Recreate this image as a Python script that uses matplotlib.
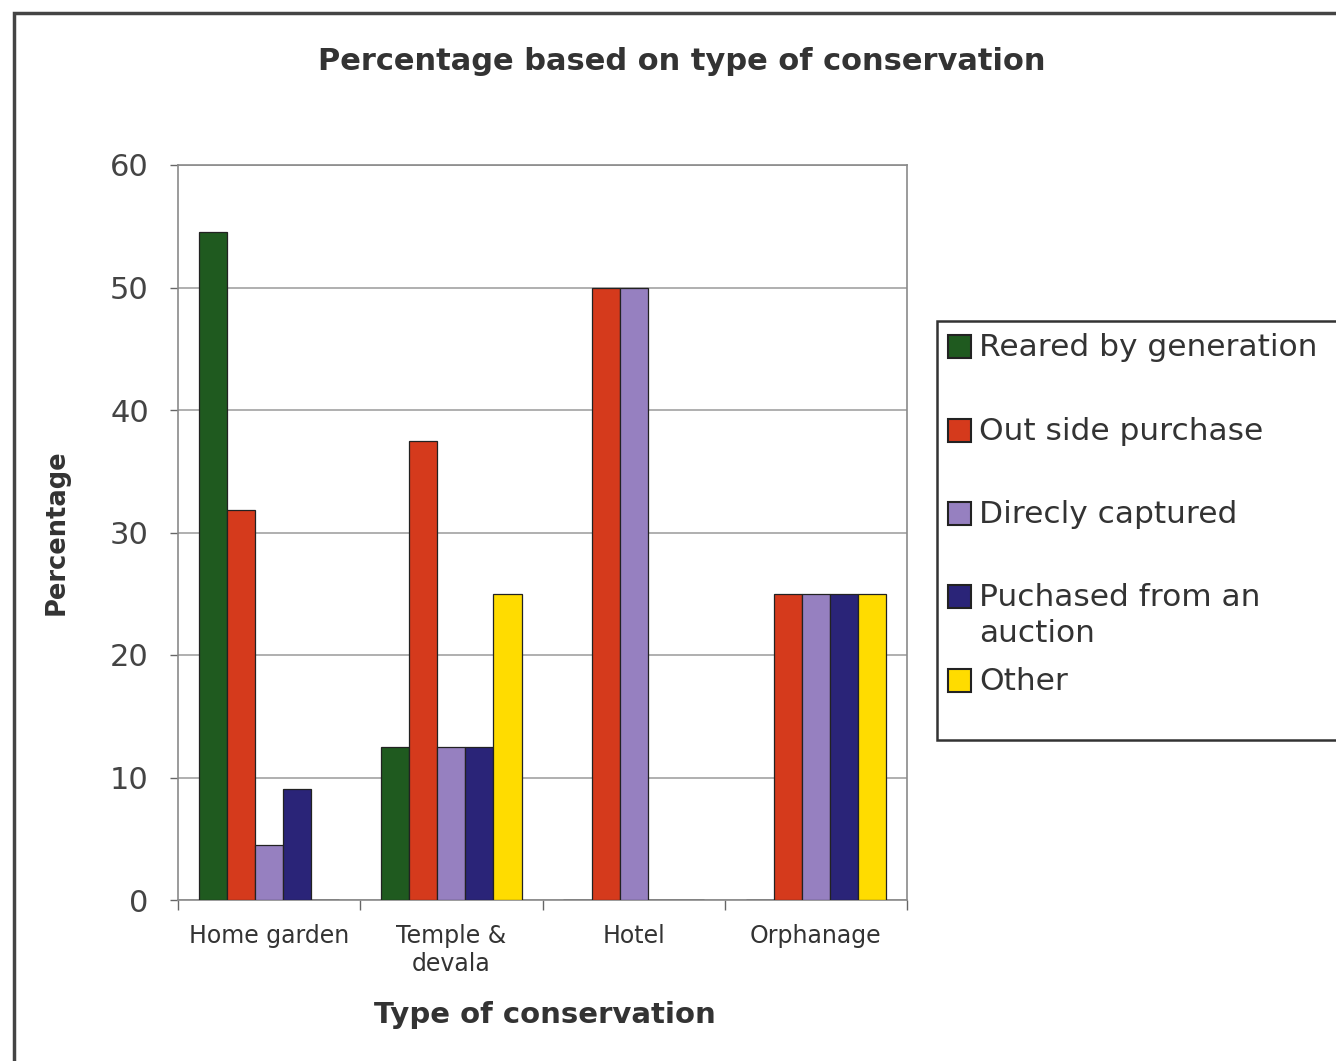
import matplotlib
matplotlib.use('Agg')
import matplotlib.pyplot as plt
from matplotlib.patches import Rectangle
import numpy as np

# data
categories = ['Home garden', 'Temple &\ndevala', 'Hotel', 'Orphanage']
series_names = ['Reared by generation', 'Out side purchase', 'Direcly captured',
                'Puchased from an\nauction', 'Other']
reared = [54.5, 12.5, 0, 0]
outside = [31.8, 37.5, 50, 25]
captured = [4.5, 12.5, 50, 25]
auction = [9.1, 12.5, 0, 25]
other = [0, 25, 0, 25]
colors = ['#1f5a1f', '#d53a1c', '#9680c0', '#2a2478', '#ffdc00']

# the original uses a wide-tracked Arial look, DejaVu gets closer on width
plt.rcParams['font.family'] = ['DejaVu Sans']
W, H = 1336, 1061
fig = plt.figure(figsize=(W / 100, H / 100), dpi=100)
fig.patch.set_facecolor('white')

# helpers to go from pixel positions to figure fractions
def fx(x):
    return x / W

def fy(y):
    return 1 - y / H

ax = fig.add_axes([fx(178), fy(900), (907 - 178) / W, (900 - 165) / H])

x = np.arange(len(categories))
bw = 0.154
all_series = [reared, outside, captured, auction, other]
for i, vals in enumerate(all_series):
    ax.bar(x + (i - 2) * bw, vals, bw, color=colors[i],
           edgecolor='#222222', linewidth=0.9, zorder=3)

ax.set_xlim(-0.5, len(categories) - 0.5)
ax.set_ylim(0, 60)
ax.set_yticks(range(0, 61, 10))
ax.yaxis.grid(True, color='#9a9a9a', linewidth=1.1, zorder=0)
ax.tick_params(axis='y', direction='out', length=6, width=1, color='#666666',
               labelsize=22, labelcolor='#444444', pad=15)

# category labels in the middle, tick marks on the boundaries
ax.set_xticks(x)
ax.set_xticklabels(categories, fontsize=17, color='#333333', linespacing=1.25)
ax.tick_params(axis='x', which='major', length=0, pad=17)
ax.set_xticks(np.arange(-0.5, len(categories), 1.0), minor=True)
ax.tick_params(axis='x', which='minor', direction='out', length=7, width=1, color='#666666')

for s in ax.spines.values():
    s.set_color('#8a8a8a')
    s.set_linewidth(1.2)

ax.set_ylabel('Percentage', fontsize=18.5, fontweight='bold', color='#333333')
ax.yaxis.set_label_coords((70 - 178) / 729, 0.5)

fig.text(fx(682), fy(62), 'Percentage based on type of conservation',
         fontsize=22, fontweight='bold', color='#333333', ha='center', va='center')
fig.text(fx(545), fy(1015), 'Type of conservation',
         fontsize=21, fontweight='bold', color='#333333', ha='center', va='center')

# outer chart border (runs off the right and bottom of the picture)
fig.add_artist(Rectangle((fx(14), -0.1), 1.2, fy(13) + 0.1, transform=fig.transFigure,
                         fill=False, edgecolor='#444444', linewidth=2.5, clip_on=False))

# legend box, also cut by the right edge
fig.add_artist(Rectangle((fx(937), fy(740)), 0.5, (740 - 321) / H, transform=fig.transFigure,
                         facecolor='white', edgecolor='#333333', linewidth=1.8, clip_on=False))
entry_y = [346, 430, 513, 596, 680]
sq = 23
for name, col, yy in zip(series_names, colors, entry_y):
    fig.add_artist(Rectangle((fx(948), fy(yy + sq / 2)), sq / W, sq / H,
                             transform=fig.transFigure, facecolor=col,
                             edgecolor='#222222', linewidth=1.5))
    fig.text(fx(979), fy(yy - 13), name, fontsize=22.5, color='#333333',
             ha='left', va='top', linespacing=1.3)

fig.savefig('out.png', dpi=100)
